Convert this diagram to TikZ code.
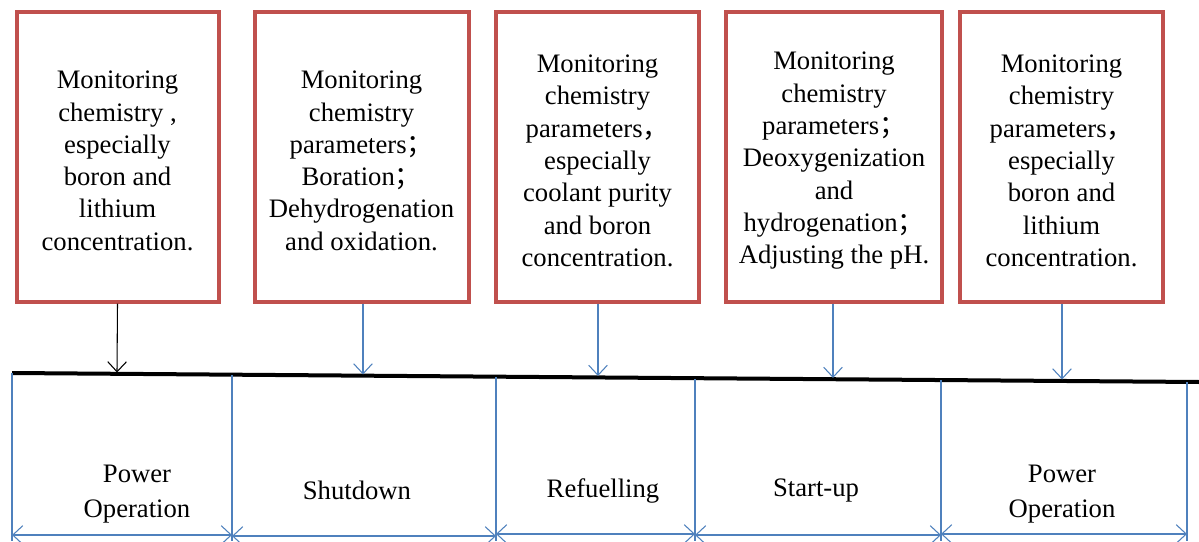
\documentclass[tikz,border=0pt]{standalone}
\usepackage{fontspec}
\setmainfont{Liberation Serif}
\newfontfamily\cjk{Noto Sans CJK SC}
\usetikzlibrary{arrows.meta}
\definecolor{boxred}{HTML}{C0504D}
\definecolor{lineblue}{HTML}{4F81BD}
\newcommand\fw[1]{{\cjk #1}}
\newcommand\topstrut{\rule{0pt}{19pt}}
\begin{document}
\begin{tikzpicture}[x=0.75pt,y=-0.75pt,
  txt/.style={font=\fontsize{20}{24.2}\selectfont, align=center, inner sep=0pt},
  taskbox/.style={txt, draw=boxred, line width=3pt, minimum height=217pt},
  feed/.style={draw=lineblue, line width=0.8pt, -{Straight Barb[length=7.5pt,width=14pt]}},
  span/.style={draw=lineblue, line width=0.8pt, {Straight Barb[length=7.5pt,width=14pt]}-{Straight Barb[length=7.5pt,width=14pt]}},
  divider/.style={draw=lineblue, line width=0.8pt}]
\useasboundingbox (0,0) rectangle (1199,542);

% chemistry tasks
\node[taskbox, minimum width=151.5pt] (b1) at (117.5,157) {\topstrut Monitoring\\chemistry ,\\especially\\boron and\\lithium\\concentration.};
\node[taskbox, minimum width=160.5pt] (b2) at (361.5,157) {\topstrut Monitoring\\chemistry\\parameters\fw{；}\\Boration\fw{；}\\Dehydrogenation\\and oxidation.};
\node[taskbox, minimum width=152.5pt] (b3) at (597.5,157) {\topstrut Monitoring\\chemistry\\parameters\fw{，}\\especially\\coolant purity\\and boron\\concentration.};
\node[taskbox, minimum width=162pt] (b4) at (834,157) {\topstrut Monitoring\\chemistry\\parameters\fw{；}\\Deoxygenization\\and\\hydrogenation\fw{；}\\Adjusting the pH.};
\node[taskbox, minimum width=152pt] (b5) at (1061.5,157) {\topstrut Monitoring\\chemistry\\parameters\fw{，}\\especially\\boron and\\lithium\\concentration.};

% time line
\coordinate (t0) at (12,373);
\coordinate (t1) at (1199,382);
\draw[line width=3pt] (t0) -- (t1);

% arrow end points on the time line
\coordinate (a1) at (117,372.5);
\coordinate (a2) at (363,374.5);
\coordinate (a3) at (598,376);
\coordinate (a4) at (833,378);
\coordinate (a5) at (1062,379.5);
\draw[feed, draw=black] (b1.south) -- (a1);
\draw[feed] (b2.south -| a2) -- (a2);
\draw[feed] (b3.south -| a3) -- (a3);
\draw[feed] (b4.south -| a4) -- (a4);
\draw[feed] (b5.south -| a5) -- (a5);

% phase dividers
\coordinate (d0t) at (12,373);   \coordinate (d0b) at (12,541);
\coordinate (d1t) at (232,375);  \coordinate (d1b) at (232,541);
\coordinate (d2t) at (496,377);  \coordinate (d2b) at (496,541);
\coordinate (d3t) at (695,379);  \coordinate (d3b) at (695,541);
\coordinate (d4t) at (941,380);  \coordinate (d4b) at (941,541);
\coordinate (d5t) at (1187,382); \coordinate (d5b) at (1187,541);
\foreach \i in {0,...,5} \draw[divider] (d\i t) -- (d\i b);

% phase spans
\coordinate (s0) at (12,535);
\coordinate (s1) at (232,535);
\coordinate (s2) at (496,534);
\coordinate (s3) at (695,534);
\coordinate (s4) at (941,534);
\coordinate (s5) at (1187,534);
\draw[span] (s0) -- (s1);
\draw[span] (s1 |- 0,536) -- (s2 |- 0,536);
\draw[span] (s2) -- (s3);
\draw[span] (s3 |- 0,535) -- (s4 |- 0,535);
\draw[span] (s4) -- (s5);

% phase names
\node[txt] (p1) at (137,494) {Power\\[2.5pt]Operation};
\node[txt] (p2) at (357,490) {Shutdown};
\node[txt] (p3) at (603,491) {Refuelling};
\node[txt] (p4) at (816,491) {Start-up};
\node[txt] (p5) at (1062,494) {Power\\[2.5pt]Operation};
\end{tikzpicture}
\end{document}
